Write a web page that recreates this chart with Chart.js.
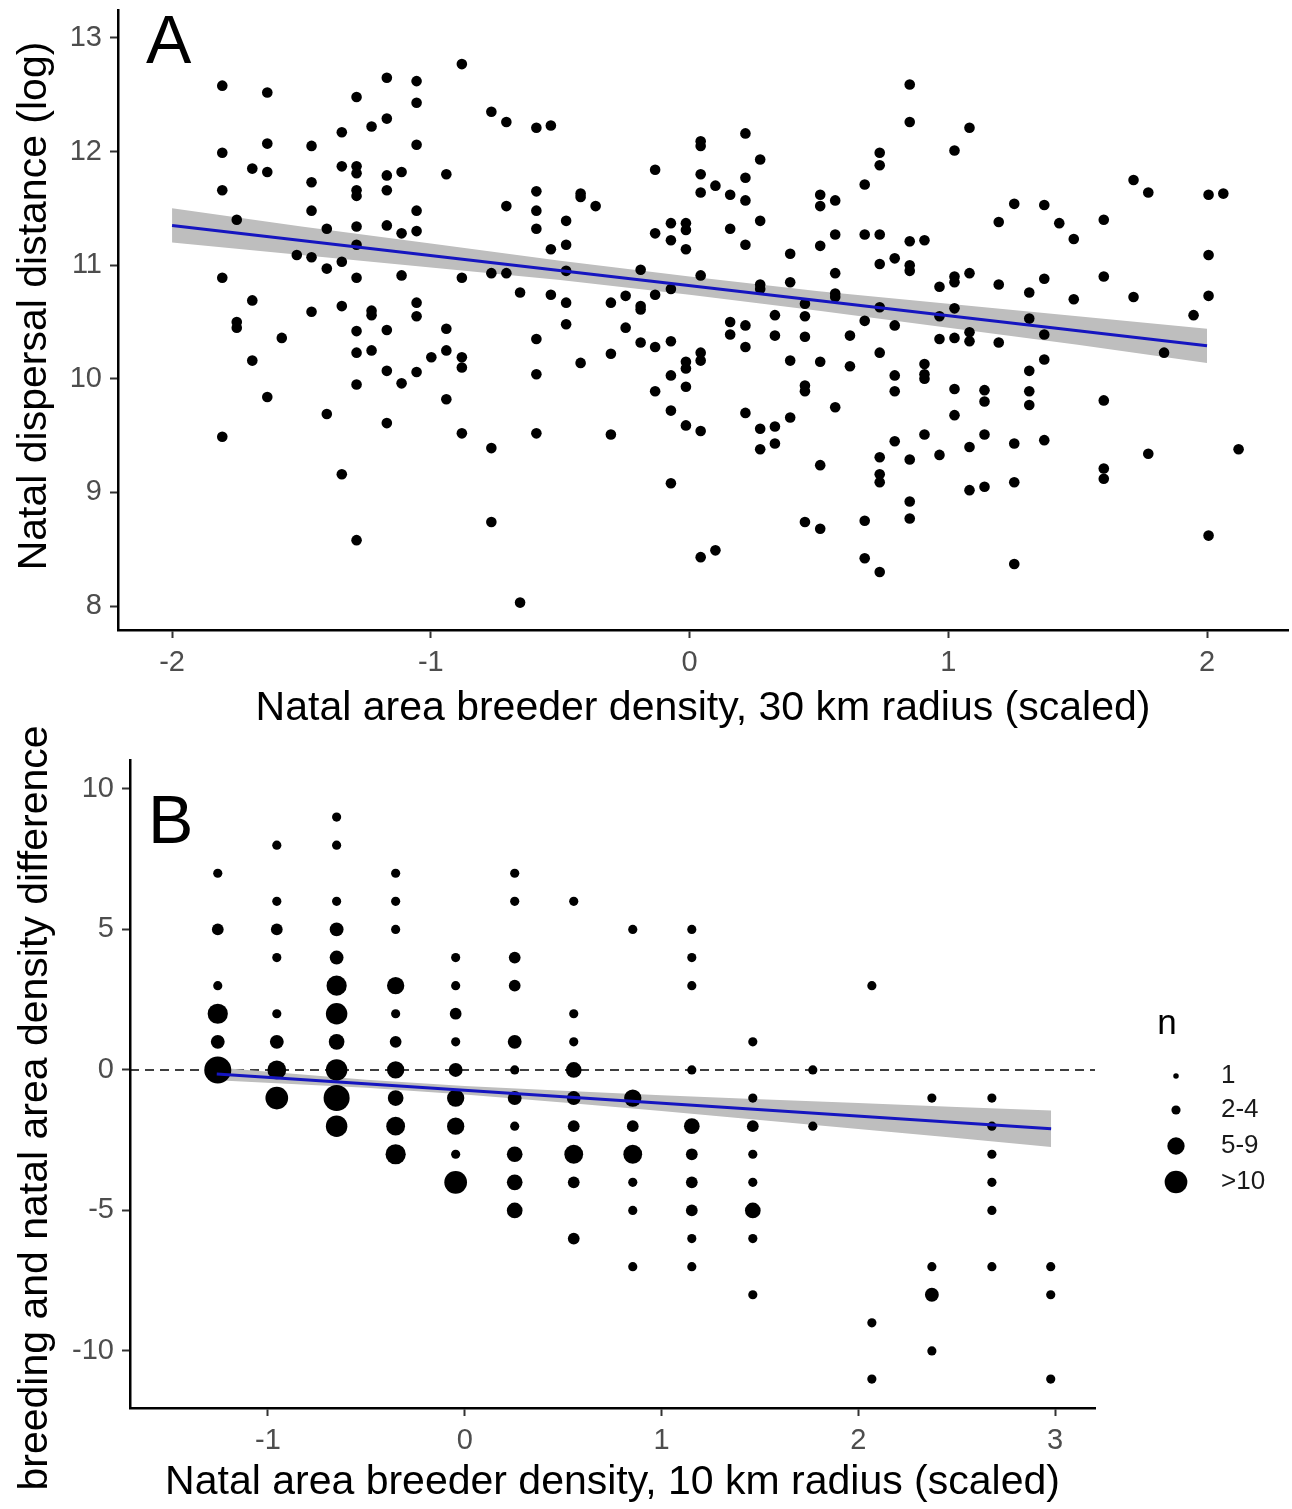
<!DOCTYPE html>
<html><head><meta charset="utf-8">
<script src="https://cdn.jsdelivr.net/npm/chart.js@4.4.1/dist/chart.umd.min.js"></script>
<style>
html,body{margin:0;padding:0;background:#fff;}
#wrap{position:relative;width:1292px;height:1509px;background:#fff;}
canvas{position:absolute;left:0;}
#cA{top:0;}
#cB{top:700px;}
</style></head><body>
<div id="wrap"><canvas id="cA" width="1292" height="740"></canvas><canvas id="cB" width="1292" height="809"></canvas></div>
<script>
// ---------- Panel A data ----------
const aColX = [-1.806,-1.750,-1.690,-1.632,-1.576,-1.518,-1.461,-1.402,-1.344,-1.287,-1.229,-1.170,-1.113,-1.055,-0.998,-0.940,-0.880,-0.766,-0.708,-0.655,-0.592,-0.536,-0.477,-0.421,-0.363,-0.304,-0.247,-0.189,-0.133,-0.072,-0.014,0.043,0.100,0.157,0.216,0.273,0.330,0.389,0.446,0.505,0.563,0.620,0.677,0.735,0.793,0.851,0.908,0.966,1.024,1.082,1.140,1.195,1.255,1.313,1.371,1.429,1.485,1.601,1.716,1.773,1.834,1.948,2.006,2.063,2.122];
const aColY = [
[12.58,11.99,11.66,10.89,9.49],
[11.40,10.50,10.45],
[11.85,10.69,10.16],
[12.52,12.07,11.82,9.84],
[10.36],
[11.09],
[12.05,11.73,11.48,11.07,10.59],
[11.32,10.97,9.69],
[12.17,11.87,11.03,10.64,9.16],
[12.48,11.87,11.81,11.66,11.61,11.34,11.18,10.89,10.42,10.23,9.95,8.58],
[12.22,10.60,10.56,10.25],
[12.65,12.29,11.79,11.66,11.35,10.43,10.07,9.61],
[11.82,11.28,10.91,9.96],
[12.62,12.43,12.06,11.48,11.30,10.67,10.55,10.06],
[10.19],
[11.80,10.44,10.25,9.82],
[12.77,10.89,10.19,10.10,9.52],
[12.35,10.93,9.39,8.74],
[12.26,11.52,10.93],
[10.76,8.03],
[12.21,11.65,11.48,11.32,10.35,10.04,9.52],
[12.23,11.14,10.74],
[11.39,11.18,10.95,10.67,10.48],
[11.63,11.60,10.14],
[11.52],
[10.67,10.22,9.51],
[10.73,10.45],
[10.96,10.64,10.61,10.32],
[11.84,11.28,10.74,10.28,9.89],
[11.37,11.22,10.79,10.33,10.03,9.72,9.08],
[11.37,11.31,11.14,10.15,10.09,9.93,9.59],
[12.09,12.05,11.80,11.64,10.91,10.23,10.16,9.54,8.43],
[11.70,8.49],
[11.62,11.32,10.50,10.39],
[12.16,11.77,11.57,11.18,10.47,10.28,9.70],
[11.93,11.39,10.83,10.79,9.56,9.38],
[10.56,10.38,9.58,9.43],
[11.10,10.85,10.16,9.66],
[10.66,10.55,10.37,9.94,9.89,8.74],
[11.62,11.52,11.17,10.15,9.24,8.68],
[11.57,11.27,10.93,10.75,10.72,9.75],
[10.38,10.11],
[11.71,11.27,10.51,8.75,8.42],
[11.99,11.88,11.27,11.01,10.63,10.23,9.31,9.16,9.09,8.30],
[11.06,10.47,10.03,9.89,9.45],
[12.59,12.26,11.21,11.00,10.95,9.29,8.92,8.77],
[11.22,10.13,10.04,10.00,9.51],
[10.81,10.55,10.35,9.33],
[12.01,10.90,10.85,10.62,10.36,9.91,9.68],
[12.21,10.93,10.41,10.33,9.40,9.02],
[9.90,9.80,9.51,9.05],
[11.38,10.83,10.32],
[11.54,9.43,9.09,8.37],
[10.76,10.53,10.07,9.89,9.77],
[11.53,10.88,10.39,10.17,9.46],
[11.37],
[11.23,10.70],
[11.40,10.90,9.81,9.21,9.12],
[11.75,10.72],
[11.64,9.34],
[10.23],
[10.56],
[11.62,11.09,10.73,8.62],
[11.63],
[9.38]
];
const aFitX = [-2, 2];
const aFitY = [11.35, 10.29];
const aBandX  = [-2,-1.5,-1,-0.5,0,0.5,1,1.5,2];
const aBandHi = [11.50,11.34,11.19,11.04,10.90,10.77,10.66,10.55,10.44];
const aBandLo = [11.20,11.09,10.98,10.87,10.74,10.60,10.45,10.30,10.14];
const aXTicks = [-2,-1,0,1,2];
const aXLabels = ['-2','-1','0','1','2'];
const aYTicks = [8,9,10,11,12,13];
const aYLabels = ['8','9','10','11','12','13'];

// ---------- Panel B data ----------
const bColX = [-1.255,-0.955,-0.651,-0.351,-0.046,0.254,0.554,0.854,1.154,1.464,1.769,2.069,2.374,2.679,2.978];
const bColY = [
[7,5,3,2,1,0],
[8,6,5,4,2,1,0,-1],
[9,8,6,5,4,3,2,1,0,-1,-2],
[7,6,5,3,2,1,0,-1,-2,-3],
[4,3,2,1,0,-1,-2,-3,-4],
[7,6,4,3,1,0,-1,-2,-3,-4,-5],
[6,2,1,0,-1,-2,-3,-4,-6],
[5,-1,-2,-3,-4,-5,-7],
[5,4,3,0,-2,-3,-4,-5,-6,-7],
[1,-1,-2,-3,-4,-5,-6,-8],
[0,-2],
[3,-9,-11],
[-1,-7,-8,-10],
[-1,-2,-3,-4,-5,-7],
[-7,-8,-11]
];
const bColN = [
[2,3,2,8,4,14],
[2,2,3,2,2,4,7,10],
[2,2,2,4,4,8,9,5,9,13,9],
[2,2,2,6,2,3,6,5,7,8],
[2,2,3,2,4,6,6,2,10],
[2,2,3,3,4,2,4,2,5,5,5],
[2,2,2,5,4,3,7,3,3],
[2,6,3,7,2,2,2],
[2,2,2,2,5,3,3,3,2,2],
[2,2,3,2,2,5,2,2],
[2,2],
[2,2,2],
[2,2,4,2],
[2,2,2,2,2,2],
[2,2,2]
];
const bFitX = [-1.26, 2.98];
const bFitY = [-0.14, -2.09];
const bBandX  = [-1.26,-0.5,0,0.5,1,1.5,2,2.5,2.98];
const bBandHi = [0.09,-0.345,-0.57,-0.74,-0.90,-1.04,-1.18,-1.32,-1.44];
const bBandLo = [-0.37,-0.635,-0.87,-1.16,-1.46,-1.78,-2.10,-2.42,-2.74];
const bRefX = [-1.701, 3.203];
const bRefY = [0, 0];
const bXTicks = [-1,0,1,2,3];
const bXLabels = ['-1','0','1','2','3'];
const bYTicks = [-10,-5,0,5,10];
const bYLabels = ['-10','-5','0','5','10'];
const legendLabels = ['1','2-4','5-9','>10'];
const legendN = [1,2,6,10];

// ---------- styling ----------
const FONT = "'Liberation Sans', Arial, Helvetica, sans-serif";
const BLUE = '#1515c0';
const BAND = '#bebebe';
const TICKCOL = '#4d4d4d';
function sizeFor(n){ return 0.5*Math.sqrt(30 + 54*(n-1)); }
const pts = (xs, ys) => xs.map((x,i)=>({x, y: ys[i]}));

const aPts = [];
aColX.forEach((x,i)=>aColY[i].forEach(y=>aPts.push({x,y})));
const bPts = [], bN = [];
bColX.forEach((x,i)=>bColY[i].forEach((y,j)=>{bPts.push({x,y}); bN.push(bColN[i][j]);}));

const textPlugin = {
  id:'texts',
  afterDraw(chart, args, opts){
    const ctx = chart.ctx;
    (opts.items||[]).forEach(t=>{
      ctx.save();
      ctx.font = t.font; ctx.fillStyle = t.color || '#000';
      ctx.textAlign = t.align || 'center'; ctx.textBaseline = t.baseline || 'middle';
      ctx.translate(t.x, t.y); if (t.rot) ctx.rotate(t.rot);
      ctx.fillText(t.text, 0, 0);
      ctx.restore();
    });
    (opts.dots||[]).forEach(d=>{
      ctx.save(); ctx.fillStyle = '#000';
      ctx.beginPath(); ctx.arc(d.x, d.y, d.r, 0, Math.PI*2); ctx.fill();
      ctx.restore();
    });
  }
};
Chart.register(textPlugin);

function axisCfg(min, max, ticks, labels, horiz, size, title){
  const c = {
    type:'linear', min, max,
    afterBuildTicks: s => { s.ticks = ticks.map(v=>({value:v})); },
    afterFit: s => {
      if (horiz) { s.height = size; s.paddingLeft = 0; s.paddingRight = 0; }
      else { s.width = size; s.paddingTop = 0; s.paddingBottom = 0; }
    },
    grid:{display:true, drawOnChartArea:false, drawTicks:true, tickLength:8, tickWidth:2, tickColor:'#333333', color:'#333333'},
    border:{display:true, color:'#000', width:2.5},
    ticks:{color:TICKCOL, font:{family:FONT, size:29}, padding:8, maxRotation:0, autoSkip:false,
      callback: v => { const k = ticks.indexOf(v); return k>=0 ? labels[k] : ''; }},
    title:{display:false}
  };
  if (title) c.title = {display:true, text:title.text, color:'#000', font:{family:FONT, size:41}, padding:{top:0, bottom:title.pb}};
  return c;
}

const base = {responsive:false, animation:false, devicePixelRatio:1, events:[]};

new Chart(document.getElementById('cA'), {
  type:'scatter',
  data:{datasets:[
    {type:'line', data:pts(aFitX,aFitY), borderColor:BLUE, borderWidth:3, pointRadius:0, fill:false, order:0},
    {type:'scatter', data:aPts, backgroundColor:'#000', borderWidth:0, pointRadius:5.3, pointHoverRadius:5.3, order:1},
    {type:'line', data:pts(aBandX,aBandHi), borderColor:'rgba(0,0,0,0)', borderWidth:0, pointRadius:0, fill:'+1', backgroundColor:BAND, order:2},
    {type:'line', data:pts(aBandX,aBandLo), borderColor:'rgba(0,0,0,0)', borderWidth:0, pointRadius:0, fill:false, order:3}
  ]},
  options:Object.assign({}, base, {
    layout:{padding:{top:10,right:4,left:0,bottom:0}, autoPadding:false},
    plugins:{legend:{display:false}, tooltip:{enabled:false},
      texts:{items:[
        {text:'A', font:'68px '+FONT, x:146, y:63, align:'left', baseline:'alphabetic'},
        {text:'Natal dispersal distance (log)', font:'41px '+FONT, x:35, y:306, rot:-Math.PI/2}
      ]}},
    scales:{
      x:axisCfg(-2.209, 2.313, aXTicks, aXLabels, true, 110, {text:'Natal area breeder density, 30 km radius (scaled)', pb:7}),
      y:axisCfg(7.789, 13.246, aYTicks, aYLabels, false, 118, null)
    }
  })
});

const OFF = 40;
const legItems = [{text:'n', font:'35px '+FONT, x:1167, y:284+OFF}];
const legDots = [];
const legY = [336, 370, 406, 442];
legendLabels.forEach((l,i)=>{
  legItems.push({text:l, font:'26px '+FONT, x:1221, y:legY[i]+OFF, align:'left', color:'#1a1a1a'});
  legDots.push({x:1176, y:legY[i]+OFF, r:sizeFor(legendN[i])});
});

new Chart(document.getElementById('cB'), {
  type:'scatter',
  data:{datasets:[
    {type:'line', data:pts(bFitX,bFitY), borderColor:BLUE, borderWidth:3, pointRadius:0, fill:false, order:0},
    {type:'scatter', data:bPts, backgroundColor:'#000', borderWidth:0,
      pointRadius: c => sizeFor(bN[c.dataIndex]), pointHoverRadius: c => sizeFor(bN[c.dataIndex]), order:1},
    {type:'line', data:pts(bBandX,bBandHi), borderColor:'rgba(0,0,0,0)', borderWidth:0, pointRadius:0, fill:'+1', backgroundColor:BAND, order:2},
    {type:'line', data:pts(bBandX,bBandLo), borderColor:'rgba(0,0,0,0)', borderWidth:0, pointRadius:0, fill:false, order:3},
    {type:'line', data:pts(bRefX,bRefY), borderColor:'#000', borderWidth:1.6, borderDash:[9,6], pointRadius:0, fill:false, order:4}
  ]},
  options:Object.assign({}, base, {
    layout:{padding:{top:60,right:197,left:0,bottom:0}, autoPadding:false},
    plugins:{legend:{display:false}, tooltip:{enabled:false},
      texts:{items:[
        {text:'B', font:'68px '+FONT, x:148, y:103+OFF, align:'left', baseline:'alphabetic'},
        {text:'breeding and natal area density difference', font:'41px '+FONT, x:36, y:368+OFF, rot:-Math.PI/2}
      ].concat(legItems), dots:legDots}},
    scales:{
      x:axisCfg(-1.701, 3.203, bXTicks, bXLabels, true, 101, {text:'Natal area breeder density, 10 km radius (scaled)', pb:1.5}),
      y:axisCfg(-12.03, 11.03, bYTicks, bYLabels, false, 130, null)
    }
  })
});
</script>
</body></html>
